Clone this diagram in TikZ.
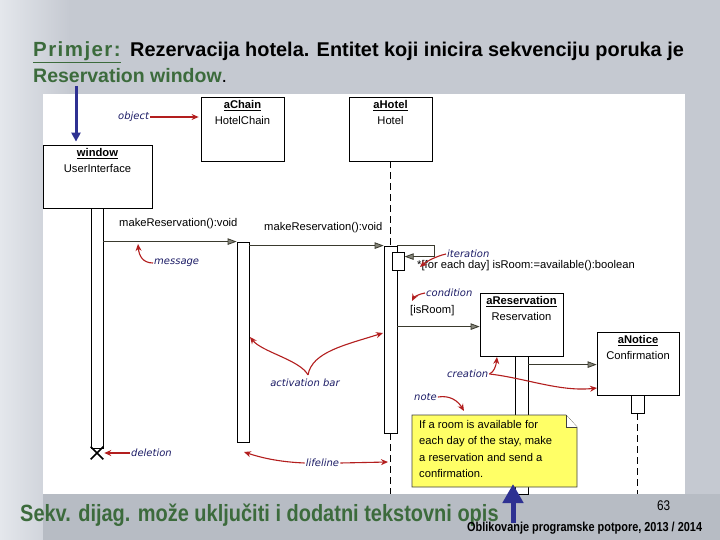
\documentclass[tikz,border=0pt]{standalone}
\usepackage{fontspec}
\setmainfont{Liberation Sans}
\newfontfamily\dfam{Liberation Sans}
\newfontfamily\lfam{DejaVu Sans}
\newfontfamily\nfam[FakeStretch=0.84]{Liberation Sans}
\newfontfamily\ffam[FakeStretch=0.85]{Liberation Sans}
\newfontfamily\pfam[LetterSpace=7]{Liberation Sans}
\newcommand\dfont{\dfam\fontsize{11.2}{13}\selectfont}
\newcommand\dfontb{\dfam\bfseries\fontsize{11.2}{13}\selectfont}
\newcommand\lfont{\lfam\itshape\fontsize{10}{12}\selectfont}
\usetikzlibrary{arrows.meta,shapes.misc,calc}
\definecolor{slidebg}{HTML}{C5C9D1}
\definecolor{slidelight}{HTML}{E4E7EC}
\definecolor{slidedark}{HTML}{B7BCC4}
\definecolor{ttlgreen}{HTML}{3C6B3C}
\definecolor{navy}{HTML}{1C1C66}
\definecolor{annred}{HTML}{B31E1E}
\definecolor{arrblue}{HTML}{2E3192}
\definecolor{noteyellow}{HTML}{FFFF66}
\definecolor{msgcol}{HTML}{3A3A2E}
\definecolor{msgfill}{HTML}{85857A}
\begin{document}
\begin{tikzpicture}[x=1pt,y=-1pt,
  objbox/.style={draw=black, line width=0.8pt, fill=white, inner sep=0pt, rectangle},
  actbar/.style={draw=black, line width=0.8pt, fill=white, inner sep=0pt, rectangle},
  dtxt/.style={font=\dfont, inner sep=0pt},
  dtxtb/.style={font=\dfontb, inner sep=0pt},
  lbl/.style={font=\lfont, text=navy, inner sep=1pt},
  ann/.style={draw=annred, line width=1.1pt, -{Stealth[length=7pt,width=6pt]}},
  msg/.style={draw=msgcol, line width=0.8pt, -{Triangle[length=9pt,width=6.5pt,fill=msgfill]}},
  lifel/.style={draw=black, line width=0.8pt, dash pattern=on 7pt off 4pt}
]
\useasboundingbox (0,0) rectangle (720,540);
% slide background
\fill[slidebg] (0,0) rectangle (720,540);
\shade[left color=slidelight, right color=slidebg] (0,0) rectangle (70,540);
\fill[slidedark] (43,494) rectangle (720,540);
\fill[white] (43,94) rectangle (685,494);

% titles
\node[anchor=base west, inner sep=0pt, font=\pfam\bfseries\fontsize{20.5}{22}\selectfont, text=ttlgreen] (title1a) at (33,57)
  {\underline{Primjer:}};
\node[anchor=base west, inner sep=0pt, font=\dfam\bfseries\fontsize{19.9}{22}\selectfont] (title1b) at (130,57)
  {Rezervacija hotela. Entitet koji inicira sekvenciju poruka je};
\node[anchor=base west, inner sep=0pt, font=\dfam\fontsize{19.5}{22}\selectfont] (title2) at (33,83)
  {\textcolor{ttlgreen}{\bfseries Reservation window}.};

% objects
\node[objbox, minimum width=109pt, minimum height=63pt] (window) at (97.5,176.5) {};
\node[dtxtb] (windowN) at ($(window.north)+(0,9)$) {\underline{window}};
\node[dtxt] (windowC) at ($(window.north)+(0,24)$) {UserInterface};

\node[objbox, minimum width=83pt, minimum height=64pt] (chain) at (242.5,129) {};
\node[dtxtb] (chainN) at ($(chain.north)+(0,9)$) {\underline{aChain}};
\node[dtxt] (chainC) at ($(chain.north)+(0,24)$) {HotelChain};

\node[objbox, minimum width=83pt, minimum height=64pt] (hotel) at (390.5,129) {};
\node[dtxtb] (hotelN) at ($(hotel.north)+(0,9)$) {\underline{aHotel}};
\node[dtxt] (hotelC) at ($(hotel.north)+(0,24)$) {Hotel};

\node[objbox, minimum width=83pt, minimum height=63pt] (res) at (521.5,324.5) {};
\node[dtxtb] (resN) at ($(res.north)+(0,9)$) {\underline{aReservation}};
\node[dtxt] (resC) at ($(res.north)+(0,24)$) {Reservation};

\node[objbox, minimum width=82pt, minimum height=63pt] (notice) at (638,363.5) {};
\node[dtxtb] (noticeN) at ($(notice.north)+(0,9)$) {\underline{aNotice}};
\node[dtxt] (noticeC) at ($(notice.north)+(0,24)$) {Confirmation};

% activation bars
\node[actbar, minimum width=12pt, minimum height=240pt] (winbar) at (97,328) {};
\node[actbar, minimum width=12pt, minimum height=200pt] (chainbar) at (243,342) {};
\node[actbar, minimum width=13pt, minimum height=187pt] (hotelbar) at (390.5,339.5) {};
\node[actbar, minimum width=11.5pt, minimum height=18pt] (nestbar) at (398.5,261) {};
\node[actbar, minimum width=13pt, minimum height=138pt] (resbar) at (521.5,425) {};
\node[actbar, minimum width=13pt, minimum height=18pt] (noticebar) at (637.5,404) {};

% lifelines
\coordinate (hotelend) at (390.5,494);
\coordinate (noticeend) at (637.5,494);
\draw[lifel] (hotel.south) -- (hotelbar.north);
\draw[lifel] (hotelbar.south) -- (hotelend);
\draw[lifel] (noticebar.south) -- (noticeend);

% deletion
\node[cross out, draw=black, line width=1.6pt, minimum size=11pt, inner sep=0pt] (del) at (97,453) {};

% messages
\draw[msg] (winbar.east |- chainbar.north) -- (chainbar.north west);
\draw[msg] (chainbar.east |- hotelbar.north) -- (hotelbar.north west);
\coordinate (selfin) at ($(nestbar.north east)+(0,5)$);
\draw[msg] (hotelbar.north east) -- ++(37,0) |- (selfin);
\coordinate (resin) at ($(res.north west)+(0,34)$);
\draw[msg] (hotelbar.east |- resin) -- (resin);
\coordinate (notin) at ($(notice.north west)+(0,33)$);
\draw[msg] (resbar.east |- notin) -- (notin);

\node[dtxt, anchor=west] (m1L) at (119,224) {makeReservation():void};
\node[dtxt, anchor=west] (m2L) at (264,228) {makeReservation():void};
\node[dtxt, anchor=west] (iterT) at (417,266) {*[for each day] isRoom:=available():boolean};
\node[dtxt, anchor=west] (condT) at (410,311) {[isRoom]};

% note
\fill[noteyellow] (412,415) -- (566,415) -- (577,427) -- (577,487) -- (412,487) -- cycle;
\draw[black!75, line width=0.6pt] (412,415) -- (566,415) -- (577,427) -- (577,487) -- (412,487) -- cycle;
\fill[white] (566,415) -- (577,427) -- (566,427) -- cycle;
\draw[black!75, line width=0.6pt] (566,415) -- (566,427) -- (577,427);
\node[dtxt, anchor=north west, align=left, font=\dfam\fontsize{11.2}{16.5}\selectfont] (notetext) at (419,420)
  {If a room is available for\\each day of the stay, make\\a reservation and send a\\confirmation.};

% annotation labels
\node[lbl, anchor=west] (objL) at (117,117) {object};
\node[lbl, anchor=west] (msgL) at (153,263) {message};
\node[lbl, anchor=west] (iterL) at (446,254) {iteration};
\node[lbl, anchor=west] (condL) at (425,293) {condition};
\node[lbl, anchor=west] (creaL) at (446,374) {creation};
\node[lbl, anchor=west] (noteL) at (413,397) {note};
\node[lbl] (actL) at (305,383) {activation bar};
\node[lbl, anchor=west] (delL) at (130,453) {deletion};
\node[lbl] (lifeL) at (322.5,463) {lifeline};

% annotation arrows
\draw[ann, shorten >=2pt] (objL.east) -- (chain.west |- objL.east);
\coordinate (msgTip) at (138,244);
\draw[ann] (msgL.west) .. controls (143,263) and (139,256) .. (msgTip);
\coordinate (iterTip) at (420,267);
\draw[ann] (iterL.west) .. controls (437,256) and (427,261) .. (iterTip);
\coordinate (condTip) at (412,301);
\draw[ann] (condL.west) .. controls (419,294) and (414,297) .. (condTip);
\coordinate (creaTipA) at (497,357);
\draw[ann] (creaL.east) .. controls (494,372) and (496,366) .. (creaTipA);
\coordinate (creaTipB) at (597,388);
\draw[ann] (creaL.east) .. controls (525,378) and (560,392) .. (creaTipB);
\coordinate (noteTip) at (464,411);
\draw[ann] (noteL.east) .. controls (450,395) and (458,401) .. (noteTip);
\coordinate (fork) at ($(actL.north)+(3,-3)$);
\coordinate (actTipL) at (250,337);
\coordinate (actTipR) at (383,333);
\draw[ann] (fork) .. controls (300,360) and (262,352) .. (actTipL);
\draw[ann] (fork) .. controls (312,352) and (345,345) .. (actTipR);
\draw[ann, shorten >=1pt] (delL.west) -- (del.east);
\coordinate (lifeTipL) at (244,452);
\coordinate (lifeTipR) at (388,462);
\draw[ann] (lifeL.west) .. controls (280,462) and (262,458) .. (lifeTipL);
\draw[ann] (lifeL.east) -- (lifeTipR);

% blue arrows
\coordinate (objTop) at (76,86);
\draw[arrblue, line width=3pt, -{Triangle[length=9pt,width=9pt]}, shorten >=3pt] (objTop) -- (objTop |- window.north);
\coordinate (noteTail) at (513,523);
\coordinate (noteHead) at (513,484);
\draw[arrblue, line width=5pt, -{Triangle[length=19pt,width=20pt]}] (noteTail) -- (noteHead);

% footer
\node[anchor=base west, inner sep=0pt, font=\ffam\bfseries\fontsize{23.5}{26}\selectfont, text=ttlgreen] (foot) at (20,521)
  {Sekv. dijag. može uključiti i dodatni tekstovni opis};
\node[anchor=base west, inner sep=0pt, font=\nfam\bfseries\fontsize{13}{15}\selectfont] (course) at (467,531)
  {Oblikovanje programske potpore, 2013 / 2014};
\node[anchor=base west, inner sep=0pt, font=\nfam\fontsize{14}{16}\selectfont] (pagenum) at (657,510) {63};
\end{tikzpicture}
\end{document}
